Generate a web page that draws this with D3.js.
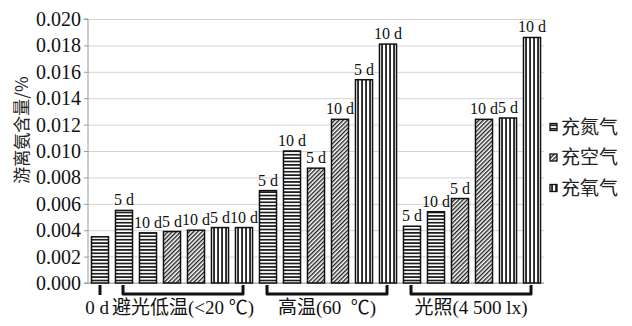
<!DOCTYPE html>
<html>
<head>
<meta charset="utf-8">
<script src="https://cdn.jsdelivr.net/npm/d3@7/dist/d3.min.js"></script>
<style>
  html, body { margin: 0; padding: 0; background: #fff; }
  svg { display: block; }
</style>
</head>
<body>
<svg id="chart" width="632" height="326"></svg>
<script>
// Free ammonia content (%) per storage condition, gas and duration
const dayLabels = ["", "5 d", "10 d", "5 d", "10 d", "5 d", "10 d",
                   "5 d", "10 d", "5 d", "10 d", "5 d", "10 d",
                   "5 d", "10 d", "5 d", "10 d", "5 d", "10 d"];
const gasOfBar = ["N2", "N2", "N2", "air", "air", "O2", "O2",
                  "N2", "N2", "air", "air", "O2", "O2",
                  "N2", "N2", "air", "air", "O2", "O2"];
const ammonia = [0.0035, 0.0055, 0.0038, 0.0039, 0.0040, 0.0042, 0.0042,
                 0.0070, 0.0100, 0.0087, 0.0124, 0.0154, 0.0181,
                 0.0043, 0.0054, 0.0064, 0.0124, 0.0125, 0.0186];
const groupNames = ["0 d", "避光低温(<20 ℃)", "高温(60\u00a0 ℃)", "光照(4 500 lx)"];
const groupFirst = [0, 1, 7, 13];
const groupLast = [0, 6, 12, 18];
const yTicks = [0, 0.002, 0.004, 0.006, 0.008, 0.010, 0.012, 0.014, 0.016, 0.018, 0.020];
const seriesKeys = ["N2", "air", "O2"];
const seriesNames = ["充氮气", "充空气", "充氧气"];

const SERIF = "'Liberation Serif', 'Noto Sans CJK SC', serif";
const CJK = "'Noto Sans CJK SC', sans-serif";

const svg = d3.select("#chart");
const plotLeft = 88, plotRight = 544, plotTop = 19, plotBottom = 283;

const x = d3.scaleBand()
  .domain(d3.range(ammonia.length))
  .range([plotLeft, plotRight])
  .paddingInner(0.29)
  .paddingOuter(0.145);
const y = d3.scaleLinear().domain([0, 0.02]).range([plotBottom, plotTop]);

// fill patterns: horizontal stripes, diagonal hatch, vertical stripes
const defs = svg.append("defs");
const ph = defs.append("pattern").attr("id", "pat-N2")
  .attr("patternUnits", "userSpaceOnUse").attr("width", 6).attr("height", 3.4);
ph.append("rect").attr("width", 6).attr("height", 3.4).attr("fill", "#fff");
ph.append("rect").attr("y", 0.9).attr("width", 6).attr("height", 1.6).attr("fill", "#111");

const pd = defs.append("pattern").attr("id", "pat-air")
  .attr("patternUnits", "userSpaceOnUse").attr("width", 3).attr("height", 6)
  .attr("patternTransform", "rotate(45)");
pd.append("rect").attr("width", 3).attr("height", 6).attr("fill", "#fff");
pd.append("rect").attr("x", 0).attr("width", 1.4).attr("height", 6).attr("fill", "#222");

const pv = defs.append("pattern").attr("id", "pat-O2")
  .attr("patternUnits", "userSpaceOnUse").attr("width", 4).attr("height", 6);
pv.append("rect").attr("width", 4).attr("height", 6).attr("fill", "#fff");
pv.append("rect").attr("x", 1.2).attr("width", 1.7).attr("height", 6).attr("fill", "#111");

// gridlines
svg.append("g")
  .attr("transform", `translate(${plotLeft},0)`)
  .call(d3.axisLeft(y).tickValues(yTicks).tickSize(-(plotRight - plotLeft)).tickFormat(""))
  .call(g => g.select(".domain").remove())
  .call(g => g.selectAll(".tick line").attr("stroke", "#d4d4d4").attr("stroke-width", 1));

// y axis
const yAxis = svg.append("g")
  .attr("transform", `translate(${plotLeft},0)`)
  .call(d3.axisLeft(y).tickValues(yTicks).tickSize(4).tickPadding(3).tickFormat(d3.format(".3f")));
yAxis.attr("font-family", SERIF).attr("font-size", 20);
yAxis.select(".domain").attr("stroke", "#9a9a9a").attr("d", `M-4,${plotTop}H0V${plotBottom}H-4`);
yAxis.selectAll(".tick line").attr("stroke", "#9a9a9a");
yAxis.selectAll(".tick text")
  .attr("font-family", SERIF)
  .attr("font-size", 20)
  .attr("fill", "#111");

// baseline
svg.append("line")
  .attr("x1", plotLeft).attr("x2", plotRight)
  .attr("y1", y(0)).attr("y2", y(0))
  .attr("stroke", "#9a9a9a");

// y title
svg.append("text")
  .attr("transform", `translate(28,130) rotate(-90)`)
  .attr("text-anchor", "middle")
  .attr("font-family", CJK)
  .attr("font-size", 17)
  .attr("fill", "#222")
  .text("游离氨含量/%");

// bars
svg.append("g").selectAll("rect")
  .data(ammonia)
  .join("rect")
  .attr("x", (d, i) => x(i))
  .attr("y", d => y(d))
  .attr("width", x.bandwidth())
  .attr("height", d => y(0) - y(d))
  .attr("fill", (d, i) => `url(#pat-${gasOfBar[i]})`)
  .attr("stroke", "#111")
  .attr("stroke-width", 1.5);

// duration labels above bars
svg.append("g").selectAll("text")
  .data(ammonia)
  .join("text")
  .attr("font-family", SERIF)
  .attr("x", (d, i) => x(i) + x.bandwidth() / 2)
  .attr("y", d => y(d) - 5)
  .attr("text-anchor", "middle")
  .attr("font-size", 16)
  .attr("fill", "#111")
  .text((d, i) => dayLabels[i]);

// group brackets
const bTop = 285, bBot = 294;
const cx = i => x(i) + x.bandwidth() / 2;
svg.append("g").selectAll("path")
  .data(groupNames)
  .join("path")
  .attr("d", (d, k) => groupFirst[k] === groupLast[k]
    ? `M${cx(groupFirst[k])},${bTop}V${bBot + 1}`
    : `M${cx(groupFirst[k]) - 1},${bTop}V${bBot}H${cx(groupLast[k]) - 1}V${bTop}`)
  .attr("fill", "none")
  .attr("stroke", "#111")
  .attr("stroke-width", 3)
  .attr("stroke-linejoin", "round");

// group labels
svg.append("g").selectAll("text")
  .data(groupNames)
  .join("text")
  .attr("font-family", SERIF)
  .attr("x", (d, k) => (cx(groupFirst[k]) + cx(groupLast[k])) / 2 - (groupFirst[k] === groupLast[k] ? 3 : 1))
  .attr("y", 314)
  .attr("text-anchor", "middle")
  .attr("font-size", 19)
  .attr("fill", "#111")
  .text(d => d);

// legend
const legend = svg.append("g").selectAll("g")
  .data(seriesKeys)
  .join("g")
  .attr("transform", (d, i) => `translate(550,${127 + i * 30.5})`);
legend.append("rect")
  .attr("x", 0).attr("y", -3.5)
  .attr("width", 7).attr("height", 7)
  .attr("fill", d => `url(#pat-${d})`)
  .attr("stroke", "#111")
  .attr("stroke-width", 1.3);
legend.append("text")
  .attr("x", 11)
  .attr("y", 0)
  .attr("dy", "0.36em")
  .attr("font-family", CJK)
  .attr("font-size", 19)
  .attr("fill", "#222")
  .text((d, i) => seriesNames[i]);
</script>
</body>
</html>
